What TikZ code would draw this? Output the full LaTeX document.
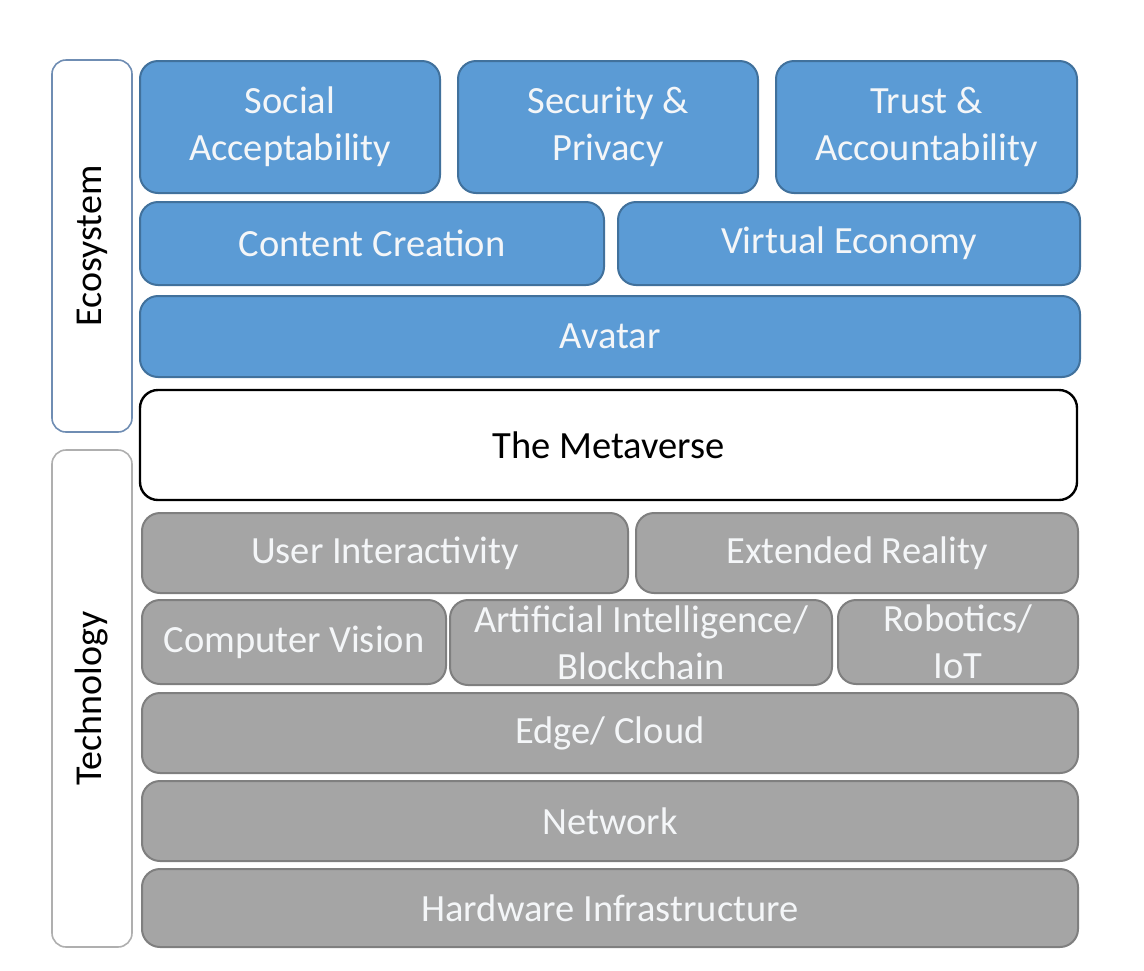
\documentclass[tikz,border=0pt]{standalone}
\usepackage{fontspec}
\setmainfont{Carlito}
\usepackage{tikz}
\usetikzlibrary{positioning}

\definecolor{ecoblue}{HTML}{5B9BD5}
\definecolor{ecoline}{HTML}{41719C}
\definecolor{techgray}{HTML}{A5A5A5}
\definecolor{techline}{HTML}{7F7F7F}
\definecolor{sideblue}{HTML}{6F8DB3}
\definecolor{sidegray}{HTML}{AFAFAF}
\definecolor{boxtext}{HTML}{F4F6F8}

\begin{document}
\begin{tikzpicture}[x=1pt,y=-1pt,
  layer/.style={rectangle,rounded corners=18pt,line width=2pt,align=center,
    inner sep=0pt,text=boxtext,font=\fontsize{38.5}{47}\selectfont},
  eco box/.style={layer,draw=ecoline,fill=ecoblue},
  tech box/.style={layer,draw=techline,fill=techgray},
  side box/.style={rectangle,rounded corners=14pt,line width=1.6pt,fill=white,
    minimum width=80pt}]

  \useasboundingbox (0,0) rectangle (1144,970);

  % side labels
  \node[side box,draw=sideblue,minimum height=372pt] (eco) at (92,246) {};
  \node[rotate=90,font=\fontsize{38}{46}\selectfont] (ecolabel) at (eco.center) {Ecosystem};
  \node[side box,draw=sidegray,minimum height=497pt] (tech) at (92,698.5) {};
  \node[rotate=90,font=\fontsize{38}{46}\selectfont] (techlabel) at (tech.center) {Technology};

  % ecosystem
  \node[eco box,minimum width=300pt,minimum height=132pt] (social) at (290,127) {Social\\Acceptability};
  \node[eco box,minimum width=300pt,minimum height=132pt] (security) at (608,127) {Security \&\\Privacy};
  \node[eco box,minimum width=301pt,minimum height=132pt] (trust) at (926.5,127) {Trust \&\\Accountability};
  \node[eco box,minimum width=464pt,minimum height=83pt] (content) at (372,243.5) {Content Creation};
  \node[eco box,minimum width=462pt,minimum height=83pt] (economy) at (849,243.5) {Virtual Economy};
  \node[eco box,minimum width=940pt,minimum height=81pt] (avatar) at (610,336.5) {Avatar};

  % the metaverse
  \node[layer,draw=black,line width=2.4pt,fill=white,text=black,
    minimum width=937pt,minimum height=110pt] (meta) at (608.5,445) {The Metaverse};

  % technology
  \node[tech box,minimum width=486pt,minimum height=80pt] (user) at (385,553) {User Interactivity};
  \node[tech box,minimum width=442pt,minimum height=80pt] (xr) at (857,553) {Extended Reality};
  \node[tech box,minimum width=304pt,minimum height=84pt] (vision) at (294,642) {Computer Vision};
  \node[tech box,minimum width=382pt,minimum height=85pt] (ai) at (641,642.5) {Artificial Intelligence/\\Blockchain};
  \node[tech box,minimum width=240pt,minimum height=84pt] (robot) at (958,642) {Robotics/\\IoT};
  \node[tech box,minimum width=936pt,minimum height=80pt] (edge) at (610,733) {Edge/ Cloud};
  \node[tech box,minimum width=936pt,minimum height=80pt] (network) at (610,821) {Network};
  \node[tech box,minimum width=936pt,minimum height=78pt] (hardware) at (610,908) {Hardware Infrastructure};
\end{tikzpicture}
\end{document}
